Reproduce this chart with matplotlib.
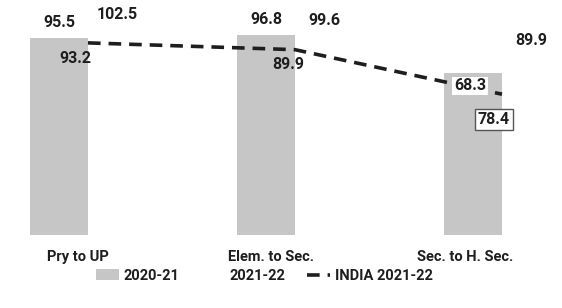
import matplotlib.pyplot as plt
import numpy as np

categories = ["Pry to UP", "Elem. to Sec.", "Sec. to H. Sec."]
y2020 = [95.5, 96.8, 78.4]
y2021 = [102.5, 99.6, 89.9]
india = [93.2, 89.9, 68.3]

plt.rcParams['font.family'] = ['Roboto', 'DejaVu Sans']
plt.rcParams['font.weight'] = 'bold'

fig = plt.figure(figsize=(5.62, 3.08), dpi=100)
ax = fig.add_axes([0.0, 0.237, 1.0, 0.763])

x = np.arange(len(categories))
w = 0.28
grey = '#c6c6c6'
ink = '#1e1e1e'

b1 = ax.bar(x - w / 2, y2020, w, color=grey, label='2020-21')
b2 = ax.bar(x + w / 2, y2021, w, color='white', label='2021-22')
ln, = ax.plot(x, india, color=ink, lw=2.6, dashes=(3.5, 2.2),
              label='INDIA 2021-22')

# value labels for 2020-21 (last one sits inside a box)
for i, v in enumerate(y2020):
    if i == 2:
        ax.annotate(f"{v}", (x[i] - w / 2, v), xytext=(15, -33),
                    textcoords='offset points', ha='center', va='center',
                    fontsize=11.5, fontweight='bold', color=ink,
                    bbox=dict(boxstyle='square,pad=0.2', fc='white',
                              ec='#555555', lw=1))
    else:
        ax.annotate(f"{v}", (x[i] - w / 2, v), xytext=(0, 6),
                    textcoords='offset points', ha='center', va='bottom',
                    fontsize=11.5, fontweight='bold', color=ink)

for i, v in enumerate(y2021):
    ax.annotate(f"{v}", (x[i] + w / 2, v), xytext=(0, 1),
                textcoords='offset points', ha='center', va='bottom',
                fontsize=11.5, fontweight='bold', color=ink)

offs = [(-9, -11), (-5, -11), (-23, 6)]
for i, v in enumerate(india):
    ax.annotate(f"{v}", (x[i], v), xytext=offs[i],
                textcoords='offset points', ha='center', va='center',
                fontsize=11.5, fontweight='bold', color=ink,
                bbox=dict(boxstyle='square,pad=0.1', fc='white', ec='none')
                if i == 2 else None)

ax.set_xlim(-0.425, 2.29)
ax.set_ylim(0, 114)
ax.set_xticks(x - 0.05 - 0.065 * x)
ax.set_xticklabels(categories, fontsize=10.5, fontweight='bold', color=ink)
ax.tick_params(axis='x', length=0, pad=11)
ax.set_yticks([])
for s in ax.spines.values():
    s.set_visible(False)

leg = fig.legend(handles=[b1, b2, ln], loc='center',
                 bbox_to_anchor=(0.47, 0.105), ncol=3, frameon=False,
                 handlelength=1.6, columnspacing=1.5, handletextpad=0.3,
                 prop={'size': 10.5, 'weight': 'bold'})
for t in leg.get_texts():
    t.set_color(ink)

fig.savefig('out.png', dpi=100)
